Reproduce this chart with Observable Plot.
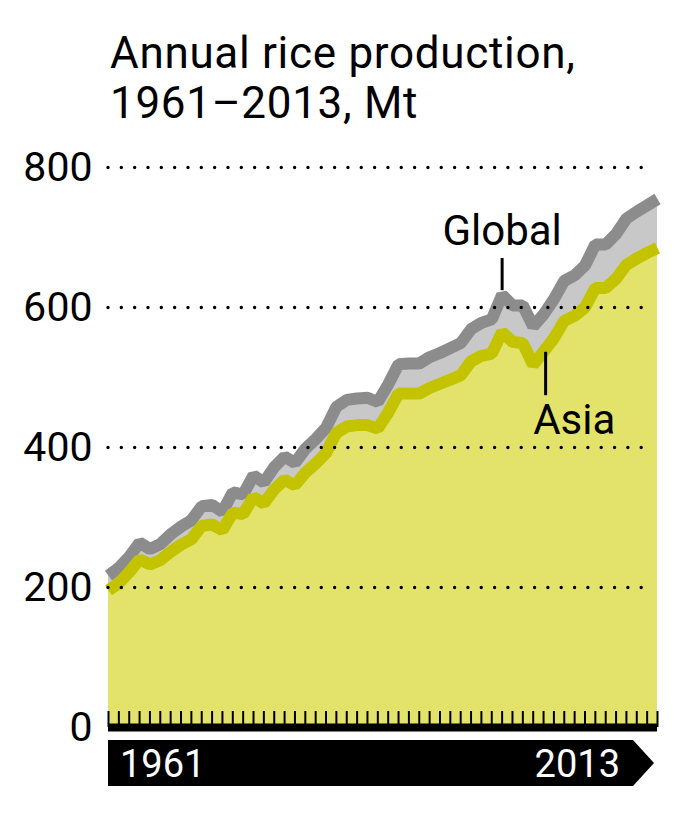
<!DOCTYPE html>
<html><head><meta charset="utf-8">
<script src="https://cdn.jsdelivr.net/npm/d3@7"></script>
<script src="https://cdn.jsdelivr.net/npm/@observablehq/plot@0.6"></script>
<style>
html,body{margin:0;padding:0;background:#fff;}
body{font-family:Roboto,"DejaVu Sans",sans-serif;color:#000;width:685px;}
#title{margin:28px 0 0 110px;font-size:44px;line-height:50px;height:100px;font-weight:400;white-space:nowrap;letter-spacing:0.7px;}
#chart svg{display:block;}
</style></head><body>
<div id="title">Annual rice production,<br>1961–2013, Mt</div>
<div id="chart"></div>
<script>
const years = [1961,1962,1963,1964,1965,1966,1967,1968,1969,1970,1971,1972,1973,1974,1975,1976,1977,1978,1979,1980,1981,1982,1983,1984,1985,1986,1987,1988,1989,1990,1991,1992,1993,1994,1995,1996,1997,1998,1999,2000,2001,2002,2003,2004,2005,2006,2007,2008,2009,2010,2011,2012,2013,2014];
const globalMt = [217,228,244,264,255,262,276,287,296,316,318,308,336,333,360,350,372,387,378,398,412,428,458,468,470,471,465,490,519,520,520,529,535,542,549,569,578,583,618,603,603,573,590,612,638,646,660,690,690,705,727,737,746,755];
const asiaMt = [196,206,222,240,233,239,251,261,269,288,290,282,307,305,329,320,340,354,346,364,377,392,421,430,432,432,427,450,477,477,477,485,491,497,503,523,531,534,565,551,549,518,537,556,581,588,600,628,628,641,661,670,678,685];
const yTicks = [0,200,400,600,800];
const gridValues = [200,400,600,800];
const startLabel = "1961";
const endLabel = "2013";
const globalLabel = "Global";
const asiaLabel = "Asia";

(function () {
const data = years.map((year, i) => ({year, global: globalMt[i], asia: asiaMt[i]}));

const chart = Plot.plot({
  width: 685,
  height: 694,
  marginTop: 39,
  marginBottom: 95,
  marginLeft: 108,
  marginRight: 28,
  style: {fontFamily: "Roboto, sans-serif", fontSize: "40px", background: "#fff", color: "#000"},
  x: {domain: [1961, 2014], axis: null},
  y: {domain: [0, 800], axis: null},
  marks: [
    Plot.areaY(data, {x: "year", y: "global", fill: "#c8c8c8"}),
    Plot.areaY(data, {x: "year", y: "asia", fill: "#e3e36b"}),
    Plot.lineY(data, {x: "year", y: "global", stroke: "#8c8c8c", strokeWidth: 12, strokeLinejoin: "miter", strokeLinecap: "butt"}),
    Plot.lineY(data, {x: "year", y: "asia", stroke: "#c3c300", strokeWidth: 12, strokeLinejoin: "miter", strokeLinecap: "butt"}),
    Plot.ruleY(gridValues, {x1: 1961, x2: 2013.2, stroke: "#000", strokeWidth: 3.4, strokeDasharray: "0,13.33", strokeLinecap: "round"}),
    Plot.axisY({ticks: yTicks, tickSize: 0, tickPadding: 16, fontSize: 41, label: null, tickFormat: d => String(d)}),
    Plot.tickX(years, {x: d => d, stroke: "#000", strokeWidth: 2, insetTop: 544}),
    Plot.ruleY([0], {stroke: "#000", strokeWidth: 8}),
    Plot.ruleX([1999], {y1: 624, y2: 670, stroke: "#000", strokeWidth: 3}),
    Plot.text([globalLabel], {x: 1999, y: 690, text: d => d, textAnchor: "middle", lineAnchor: "bottom", fontSize: 42, fill: "#000", style: {letterSpacing: "1px"}}),
    Plot.ruleX([2003.2], {y1: 474, y2: 536, stroke: "#000", strokeWidth: 3}),
    Plot.text([asiaLabel], {x: 2002, y: 420, text: d => d, textAnchor: "start", lineAnchor: "bottom", fontSize: 42, fill: "#000"})
  ]
});

document.getElementById("chart").appendChild(chart);

// bottom banner with years
const xs = chart.scale("x");
const bx0 = xs.apply(1961);
const bTip = xs.apply(2014) - 3;
const bBody = bTip - 21;
const bTop = 612, bBottom = 658, bMid = (bTop + bBottom) / 2;
const svg = d3.select(chart);
const g = svg.append("g").attr("text-anchor", "start");
g.append("path")
  .attr("d", `M${bx0},${bTop}L${bBody},${bTop}L${bTip},${bMid}L${bBody},${bBottom}L${bx0},${bBottom}Z`)
  .attr("fill", "#000");
g.append("text").attr("x", bx0 + 12).attr("y", 649).attr("text-anchor", "start")
  .attr("fill", "#fff").attr("font-size", 38).attr("font-family", "Roboto, sans-serif")
  .text(startLabel);
g.append("text").attr("x", bTip - 34).attr("y", 649).attr("text-anchor", "end")
  .attr("fill", "#fff").attr("font-size", 38).attr("font-family", "Roboto, sans-serif")
  .text(endLabel);
})();
</script>
</body></html>
